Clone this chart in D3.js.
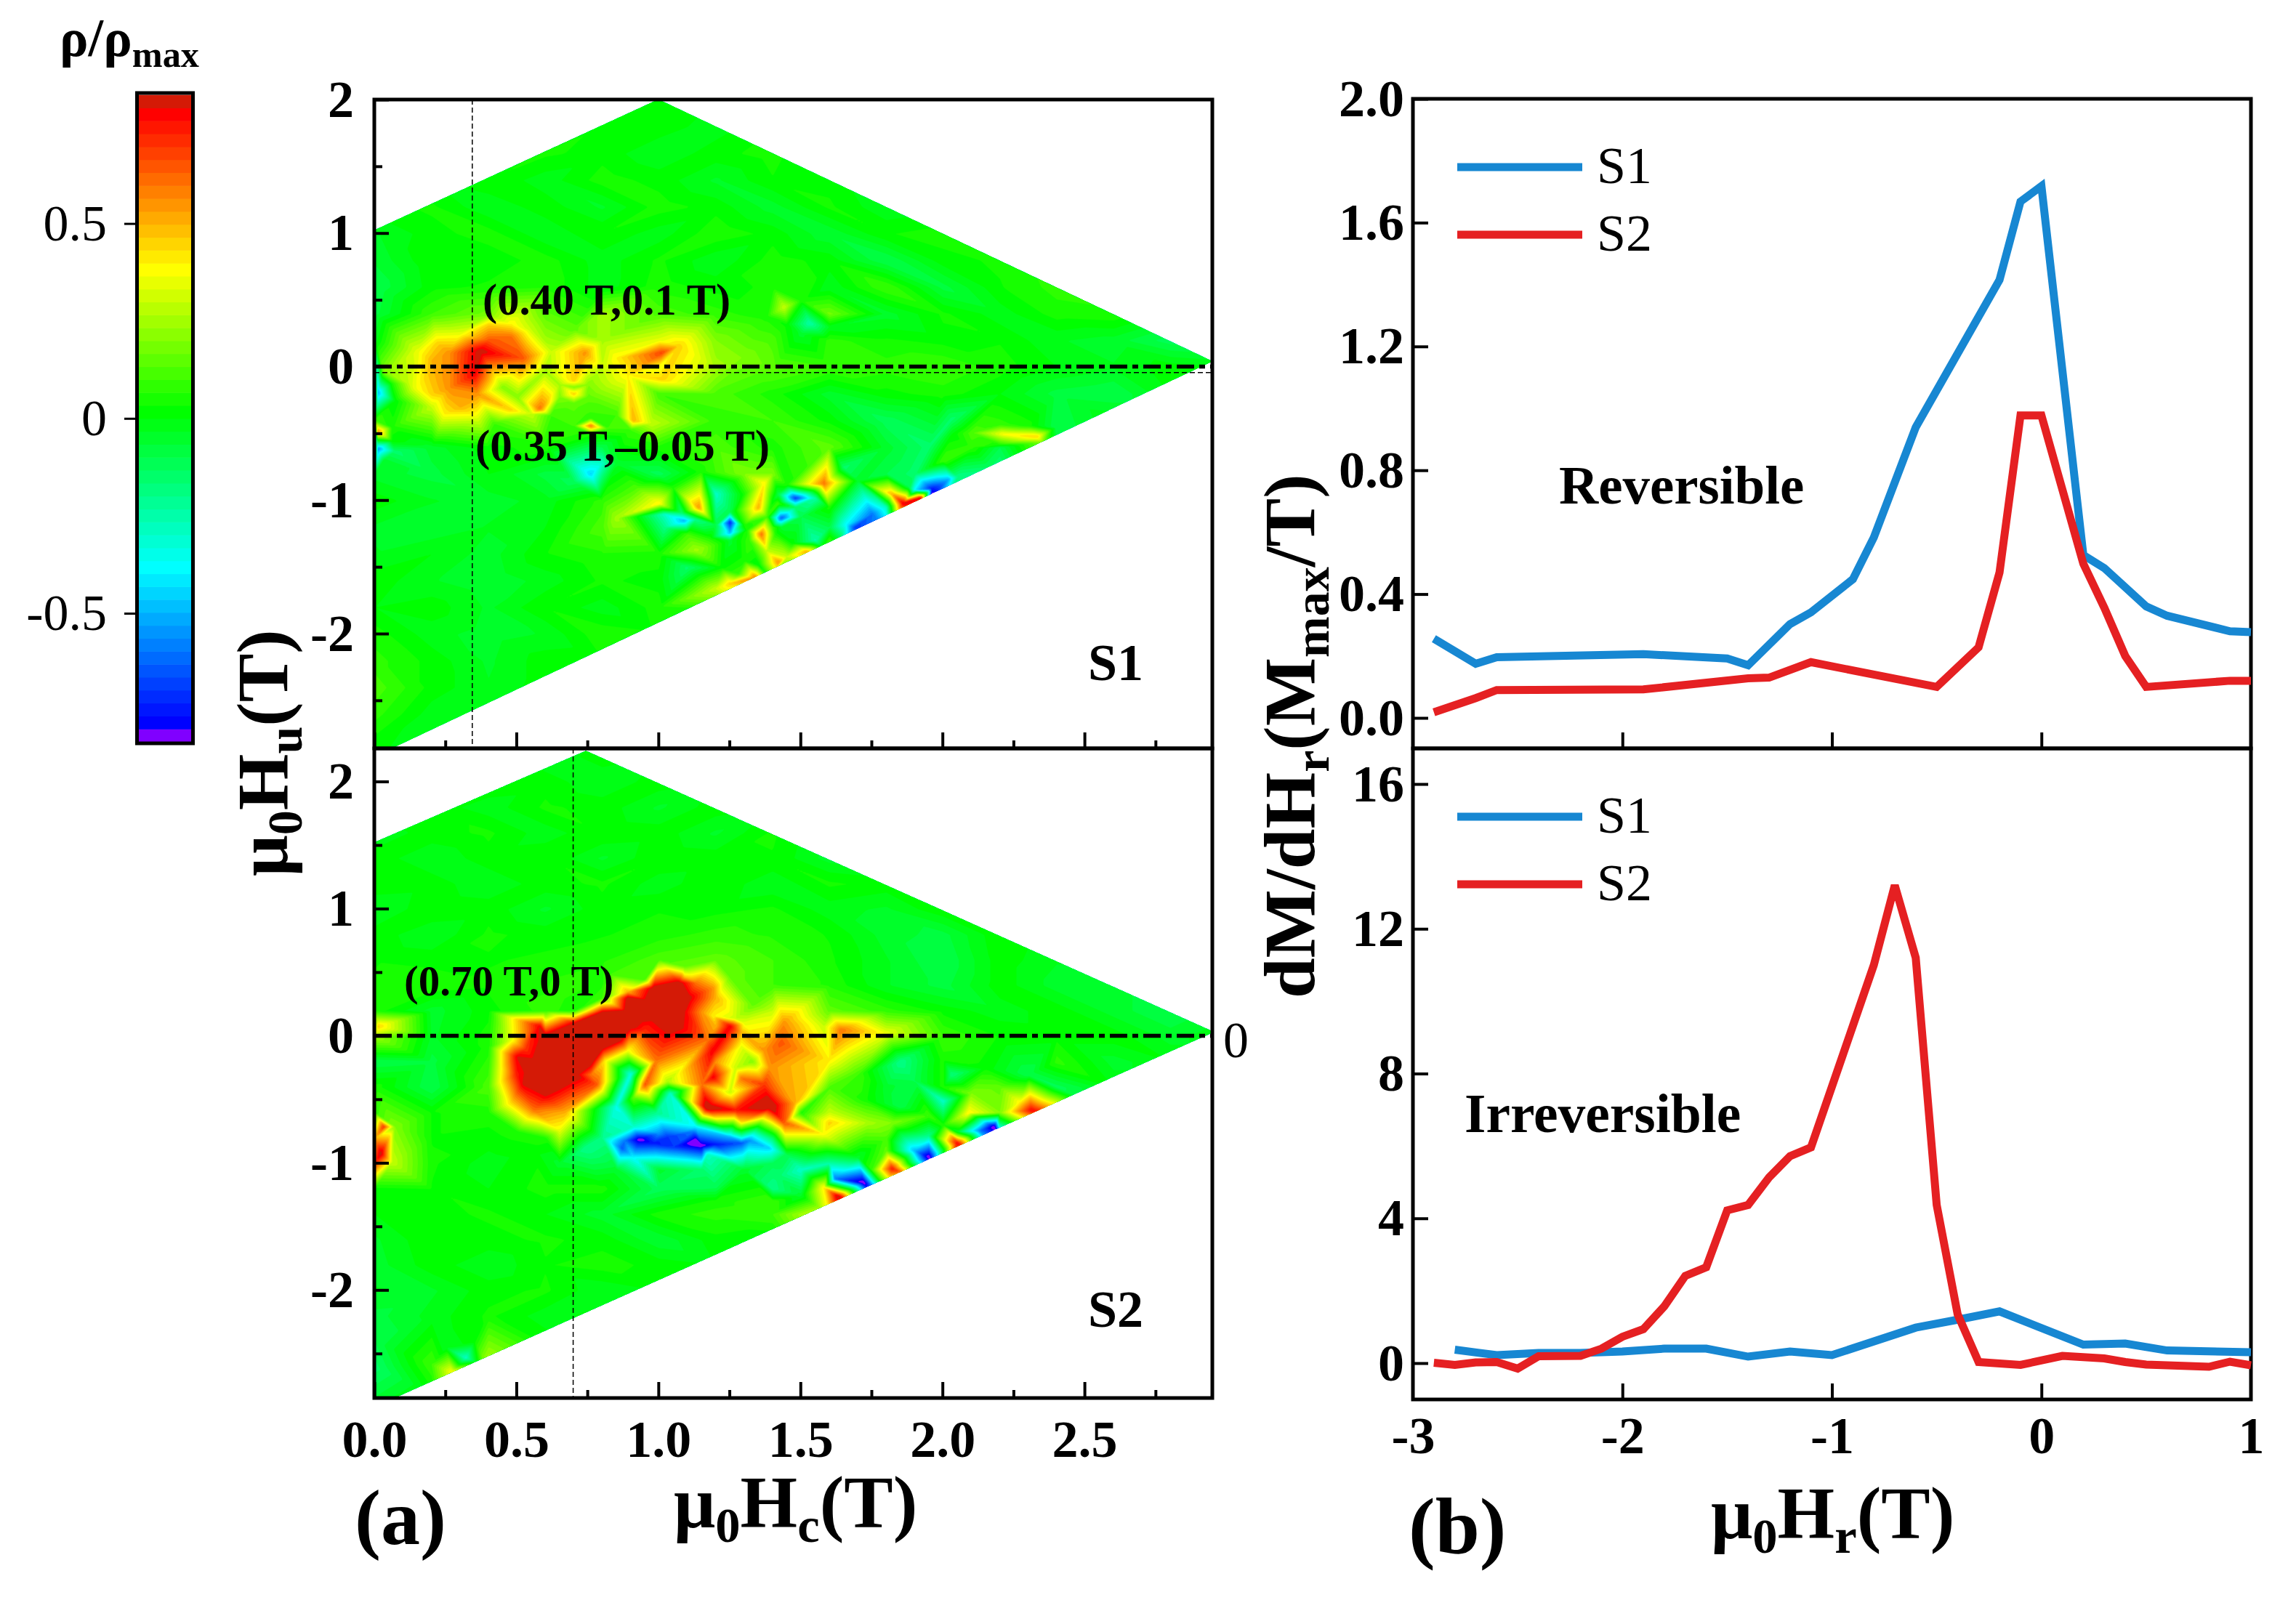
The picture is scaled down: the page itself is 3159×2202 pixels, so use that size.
<!DOCTYPE html>
<html>
<head>
<meta charset="utf-8">
<script src="https://cdn.jsdelivr.net/npm/d3@7"></script>
<style>
body { margin: 0; background: #fff; }
svg { display: block; }
text { font-family: "Liberation Serif", serif; fill: #000; }
</style>
</head>
<body>
<svg id="chart" width="3159" height="2202"></svg>
<script>
// FORC field sampled on a rough lattice, columns are Hc, rows are Hu
const latticeHc = [0, 0.2, 0.4, 0.6, 0.8, 1.0, 1.2, 1.4, 1.6, 1.8, 2.0, 2.2, 2.4, 2.6, 2.8, 3.0];
const latticeHu = [2.4, 2.2, 2.0, 1.8, 1.6, 1.4, 1.2, 1.0, 0.8, 0.6, 0.4, 0.2, 0, -0.2, -0.4, -0.6, -0.8, -1.0, -1.2, -1.4, -1.6, -1.8, -2.0, -2.2, -2.4, -2.6, -2.8, -3.0];

const s1Lattice = [
  [0, 0, 0, 0, 0, 0, 0, 0, 0, 0, 0, 0, 0, 0, 0, 0],
  [0, 0, 0, 0, 0, 0, 0, 0, 0, 0, 0, 0, 0, 0, 0, 0],
  [0, 0, 0, 0, 0, .02, 0, 0, 0, 0, 0, 0, 0, 0, 0, 0],
  [0, 0, 0, 0, .03, .02, -.02, .03, 0, 0, 0, 0, 0, 0, 0, 0],
  [0, 0, 0, .04, .02, -.03, .02, .05, -.03, 0, 0, 0, 0, 0, 0, 0],
  [0, 0, .03, -.02, .05, .02, -.04, .03, .02, 0, 0, 0, 0, 0, 0, 0],
  [.02, .04, -.03, .02, -.04, .05, .02, -.05, .04, -.03, .02, 0, 0, 0, 0, 0],
  [-.04, .02, .05, -.03, .03, -.02, .06, .02, -.06, .03, .05, -.03, 0, 0, 0, 0],
  [-.06, .03, .01, .05, -.02, .04, -.03, .05, .02, -.1, .02, .04, .05, 0, 0, 0],
  [-.1, .02, .04, .06, -.02, .05, .02, .04, -.03, .1, -.08, .03, .08, -.03, 0, 0],
  [-.08, .1, .18, .14, .25, .12, .08, .12, .18, -.05, .04, -.02, .05, .06, -.06, 0],
  [-.02, .42, .65, .3, .25, .35, .2, .12, .08, .04, .02, .03, -.03, -.05, -.12, 0],
  [.1, .4, .72, .3, .3, .35, .25, .15, .1, .08, .1, .05, 0, -.03, .02, 0],
  [-.45, .45, .4, .25, .18, .1, .12, .05, -.05, .02, .05, 0, -.08, -.1, 0, 0],
  [.1, .25, .2, .15, .12, .12, .08, .1, .02, -.12, -.2, .1, .1, 0, 0, 0],
  [-.4, -.05, .02, .05, -.1, .05, .12, .05, .15, -.05, .02, .1, 0, 0, 0, 0],
  [-.05, -.08, 0, -.08, -.45, -.12, .05, .2, .35, -.1, -.1, -.2, 0, 0, 0, 0],
  [.02, -.03, -.05, -.02, .08, .1, .05, .3, -.1, -.3, 0, 0, 0, 0, 0, 0],
  [-.04, -.06, -.03, 0, .12, .02, -.3, .4, -.1, -.5, 0, 0, 0, 0, 0, 0],
  [-.03, 0, -.05, .03, .06, .05, .12, .1, .3, 0, 0, 0, 0, 0, 0, 0],
  [.02, -.03, -.06, -.02, .04, .02, -.1, .08, 0, 0, 0, 0, 0, 0, 0, 0],
  [0, .02, -.04, .03, -.02, .05, .08, 0, 0, 0, 0, 0, 0, 0, 0, 0],
  [.05, -.02, -.05, -.03, .06, .04, 0, 0, 0, 0, 0, 0, 0, 0, 0, 0],
  [.08, .02, -.04, .02, .03, 0, 0, 0, 0, 0, 0, 0, 0, 0, 0, 0],
  [.12, .02, -.03, .02, 0, 0, 0, 0, 0, 0, 0, 0, 0, 0, 0, 0],
  [.08, -.02, .01, 0, 0, 0, 0, 0, 0, 0, 0, 0, 0, 0, 0, 0],
  [.02, -.04, 0, 0, 0, 0, 0, 0, 0, 0, 0, 0, 0, 0, 0, 0],
  [0, 0, 0, 0, 0, 0, 0, 0, 0, 0, 0, 0, 0, 0, 0, 0]
];

// finer spots: Hc, Hu, rho/rho_max
const s1Spots = [
  [.37, .12, .84], [.35, -.05, .8], [.48, .23, .6], [.26, .11, .55], [.52, .07, .65], [.22, .18, .45],
  [.48, .32, .4], [.14, -.16, .35], [.26, -.16, .55], [.3, -.3, .5], [.245, -.35, .4], [.58, -.31, .6],
  [.48, -.32, .45], [.74, .11, .55], [1.01, .11, .68], [.85, .07, .4], [1.07, .16, .45], [1.01, -.09, .45],
  [.89, -.06, .4], [.7, -.1, .45], [.7, -.2, .45], [.6, -.03, .25], [1.29, .07, .2], [.7, .28, .15],
  [1.44, .45, .3], [1.53, .33, -.25], [.01, -.19, -.5], [.03, -.03, .2], [.01, -.48, .55], [.01, -.61, -.55],
  [.76, -.8, -.45], [.76, -.44, .6], [.91, -.4, .5], [2.21, -.5, .38], [2.33, -.52, .45], [2.03, -.39, -.15],
  [1.58, -.87, .6], [1.48, -.98, -.7], [1.43, -1.13, -.65], [1.35, -1.05, .5], [1.36, -1.25, .6],
  [1.25, -1.16, -.75], [1.25, -1.24, -.5], [1.09, -1.15, -.5], [1.14, -1.05, .55], [1, -1.02, .4],
  [.85, -1.13, .25], [1.37, -.87, .4], [1.86, -1.02, .82], [1.96, -.91, -.75], [1.96, -.96, -.85],
  [1.69, -1.2, -.7], [1.52, -1.38, .5], [1.34, -1.58, .6], [1.16, -1.35, .2],
  // blob halo
  [.15, .12, .35], [.2, .05, .5], [.3, .25, .35], [.4, .32, .45], [.55, .28, .3], [.6, .2, .25], [.62, .12, .3],
  [.18, -.08, .45], [.12, -.12, .3], [.36, -.2, .55], [.45, -.15, .2], [.5, -.22, .2], [.2, -.3, .3], [.36, -.37, .35],
  [.55, -.35, .3], [.42, -.42, .1], [.62, -.36, .1],
  // lower edge
  [1.66, -1.18, -.4], [1.75, -1.1, -.6], [1.8, -1.05, -.3], [1.55, -1.3, -.25], [1.45, -1.42, .3], [1.42, -1.46, .55],
  [1.25, -1.62, .45], [1.2, -1.66, .3], [1.1, -1.5, -.15], [1.9, -.92, -.4], [1.88, -.9, -.1], [1.82, -.95, .5],
  [1.92, -.98, .8], [2.02, -.84, -.5], [2.05, -.82, -.2], [2.15, -.72, -.1], [2.35, -.56, .2],
  [1.3, -1.45, .05], [1.22, -1.5, .02], [1.38, -1.38, .3], [1.35, -1.48, 0], [1.28, -1.55, .1], [1.47, -1.32, .02],
  // middle patches
  [1.55, -.98, -.25], [1.6, -1.05, .05], [1.2, -.95, -.3], [1.3, -.95, .05], [1.32, -1.3, .1], [1.4, -1.2, .1],
  [1.18, -1.28, .05], [1.02, -1.2, -.2], [1.02, -1.1, -.3], [1.1, -1.25, .1], [1.13, -1.37, .25], [1.05, -.9, .05],
  [.92, -.9, .12], [.8, -.72, -.3], [.7, -.86, -.12], [.85, -.72, -.05], [1.15, -.78, .05], [1.3, -.8, .2],
  [1.45, -.88, .05], [1.65, -.75, -.15], [1.7, -.85, -.05], [1.9, -.8, -.15], [2, -.7, .1], [1.95, -.6, -.15],
  [2.1, -.6, .08], [2.03, -.5, 0], [2.4, -.45, -.1], [2.2, -.6, -.1], [1.4, -1, 0],
  // shoulders of the small spots
  [.65, -.13, .25], [.75, -.13, .2], [.7, -.15, .2], [.65, -.22, .2], [.75, -.22, .15], [.7, -.27, .15],
  [.7, -.44, .1], [.82, -.46, .1], [.76, -.5, .05], [.76, -.38, .08], [.85, -.36, .1], [.97, -.42, .3], [.9, -.47, .1],
  [1.38, .38, .05], [1.5, .5, .05], [1.6, .3, -.03], [1.5, .25, -.05], [1.45, .32, .02],
  [2.1, -.49, .12], [2.2, -.43, .08], [2.3, -.44, .05], [2.2, -.58, .05],
  [.06, -.12, .05], [.07, -.25, 0], [.06, -.45, .05], [.06, -.55, .02], [.07, -.63, -.15], [.03, -.7, -.05],
  [1.31, -1.22, .05], [1.41, -1.25, .05], [1.42, -.95, -.1], [1.54, -.93, -.05], [1.48, -1.05, -.15], [1.42, -1.02, .1],
  [1.38, -1.12, .1], [1.5, -1.12, -.1], [1.43, -1.2, -.05], [1.2, -1.18, -.1], [1.3, -1.18, .05], [1.25, -1.3, -.05],
  [1.25, -1.08, -.1], [1.13, -1.14, -.2], [1.08, -1.09, -.15]
];

const s2Lattice = [
  [0, 0, 0, 0, 0, 0, 0, 0, 0, 0, 0, 0, 0, 0, 0, 0],
  [0, 0, .02, -.03, .02, 0, 0, 0, 0, 0, 0, 0, 0, 0, 0, 0],
  [0, 0, .03, .02, -.03, .02, 0, 0, 0, 0, 0, 0, 0, 0, 0, 0],
  [0, .02, -.02, .04, .02, -.04, .02, 0, 0, 0, 0, 0, 0, 0, 0, 0],
  [-.03, .02, .04, -.02, .03, .02, -.04, .04, 0, 0, 0, 0, 0, 0, 0, 0],
  [.02, -.03, .02, .03, -.04, .03, .02, .03, -.05, 0, 0, 0, 0, 0, 0, 0],
  [.03, .02, -.03, .02, .04, -.02, .03, -.03, .04, .02, 0, 0, 0, 0, 0, 0],
  [-.04, .03, .02, -.04, .02, .03, .02, .04, -.02, -.04, .03, 0, 0, 0, 0, 0],
  [.02, -.03, .04, .02, .03, .05, .08, .06, .03, -.05, -.08, .03, 0, 0, 0, 0],
  [.03, .02, .03, .04, .06, .12, .15, .1, .04, -.03, -.1, .02, -.03, 0, 0, 0],
  [.04, .06, .04, .04, .06, .8, .4, .1, .06, -.03, -.08, .02, -.05, -.05, 0, 0],
  [.05, -.05, .02, .08, .85, .88, .45, .3, .15, .08, .02, -.02, .02, -.05, -.1, 0],
  [.25, -.04, .05, .8, .88, .7, .65, .5, .45, .35, .1, .03, .02, .02, -.05, 0],
  [-.1, -.08, .1, .88, .55, .55, .55, .5, .2, -.1, .05, -.08, .08, -.05, 0, 0],
  [.05, -.1, .12, .85, .65, .4, .7, .7, .12, -.05, .05, .1, -.12, 0, 0, 0],
  [.08, .03, .05, .45, .1, -.2, .83, .83, .3, .1, -.15, .2, .6, 0, 0, 0],
  [.5, .03, .02, .05, -.2, -.8, -.75, -.15, .25, .12, .2, -.7, 0, 0, 0, 0],
  [.7, .04, -.02, .02, -.2, -.25, -.2, -.12, -.1, .35, 0, 0, 0, 0, 0, 0],
  [.02, .03, 0, .05, .05, -.12, -.1, -.2, -.5, 0, 0, 0, 0, 0, 0, 0],
  [0, .02, .04, 0, -.05, .05, .08, .1, .4, 0, 0, 0, 0, 0, 0, 0],
  [-.04, .03, .02, .04, .02, -.06, .02, 0, 0, 0, 0, 0, 0, 0, 0, 0],
  [-.05, .02, -.03, .03, .05, .02, 0, 0, 0, 0, 0, 0, 0, 0, 0, 0],
  [-.03, -.04, .02, .04, -.03, 0, 0, 0, 0, 0, 0, 0, 0, 0, 0, 0],
  [-.08, -.02, .04, -.02, .02, 0, 0, 0, 0, 0, 0, 0, 0, 0, 0, 0],
  [-.1, -.04, .02, .02, 0, 0, 0, 0, 0, 0, 0, 0, 0, 0, 0, 0],
  [-.15, -.06, .3, 0, 0, 0, 0, 0, 0, 0, 0, 0, 0, 0, 0, 0],
  [-.08, .02, 0, 0, 0, 0, 0, 0, 0, 0, 0, 0, 0, 0, 0, 0],
  [0, 0, 0, 0, 0, 0, 0, 0, 0, 0, 0, 0, 0, 0, 0, 0]
];

const s2Spots = [
  [.97, .27, .9], [.8, .11, .9], [.66, -.03, .9], [.58, -.25, .9], [.64, -.36, .9], [.76, 0, .9], [.89, .19, .9], [.7, -.19, .9],
  [1.07, .42, .85], [.58, .08, .8], [.5, -.16, .8], [.52, -.38, .8], [.6, -.47, .8],
  [.48, -.03, .35], [.89, .35, .5], [1.09, .47, .45], [1.19, .38, .55], [.44, -.25, .35], [.48, -.52, .45],
  [.56, -.58, .6], [.67, -.6, .5], [.65, -.74, .35], [.4, -.08, .05], [.64, .38, .08], [.83, .49, .1], [1.09, .55, .15],
  [1.25, .47, .15], [1.33, .25, .15], [1.09, .19, .8], [1.15, .19, .55], [1.25, .08, .8], [1.19, .16, .4], [1.29, .03, .5],
  [1.44, .11, .55], [1.64, .05, .6], [1.58, .08, .3], [1.8, .03, .35], [1.19, -.11, .8], [1.17, -.03, .6], [1.29, -.08, .35],
  [1.43, -.05, .65], [1.37, -.11, .55], [1.27, -.25, .3], [1.33, -.2, .2], [1.19, -.32, .8], [1.15, -.38, .6], [1.29, -.33, .6],
  [1.39, -.25, .55], [1.25, -.44, .3], [1.37, -.38, .7], [1.39, -.55, .9], [1.17, -.56, .9], [1.27, -.58, .75], [1.44, -.68, .65],
  [1.29, -.68, .4], [1.48, -.52, .5], [1.6, -.68, .45], [1.58, -.77, .38], [1.5, -.6, .05], [.99, -.19, .6], [.89, -.12, .35],
  [.9, -.3, -.35], [.81, -.19, .4], [.78, -.38, .65], [.95, -.38, .65], [1.03, -.36, .25], [.85, -.55, -.35], [1.04, -.45, -.3],
  [.99, -.6, -.2], [.91, -.48, .15], [1.6, -.19, .4],
  [.93, -.81, -.85], [1.13, -.82, -.88], [.87, -.88, -.65], [1.03, -.79, -.7], [1.29, -.84, -.65], [1.39, -.88, -.45],
  [.91, -.71, -.3], [1.13, -.71, -.4], [1.33, -.77, -.35], [.91, -.95, -.4], [1.17, -.93, -.3], [1.45, -.93, -.1], [.74, -.88, -.2],
  [.01, .08, .45], [.03, -.71, .7], [.02, -.92, .85], [.06, -.99, .3], [.07, -.71, .2],
  [2.31, -.58, .78], [2.18, -.71, -.88], [2.13, -.74, -.6], [2.05, -.84, .78], [1.95, -.95, -.88], [1.9, -.9, -.5],
  [1.82, -1.04, .75], [1.72, -1.15, -.88], [1.62, -1.12, -.6], [1.63, -1.26, .85], [1.58, -1.19, .4], [2, -.51, -.3],
  [2.09, -.6, .4], [2.27, -.52, .4], [1.74, -.68, .25], [1.82, -.68, .2], [.27, -2.64, .38], [.32, -2.53, -.3],
  // rim of the big blob
  [.89, .3, .85], [.8, .19, .82], [.98, .38, .85], [.7, .1, .82], [.8, .3, .1], [.7, .2, .05], [.95, .45, .1],
  [1.13, .42, .6], [1.2, .3, .5], [1.1, .3, .85], [1.05, .1, .88], [.95, .05, .72], [.7, -.3, .88], [.76, -.3, .6],
  [.72, -.12, .88], [.5, -.3, .75], [.53, -.1, .7], [.8, -.08, .88], [.86, -.02, .88], [.76, -.2, .88],
  [.7, .05, .88], [.86, .12, .9], [.93, .2, .9], [.9, .08, .85], [1, .2, .88], [.6, 0, .85], [1, .3, .9],
  [1.2, .08, .5], [1.3, .1, .35], [1.27, .14, .3],
  // blue bar
  [.98, -.84, -.75], [1.2, -.85, -.75], [1.05, -.87, -.7], [.88, -.82, -.6], [1.12, -.75, -.6], [1, -.76, -.55],
  [1.25, -.79, -.5], [1.32, -.82, -.55], [1.15, -.86, -.85],
  // patches further out
  [1.85, -.2, -.2], [1.7, -.3, .1], [1.9, -.35, -.1], [2, -.18, .05], [2.03, -.3, -.18], [2.15, -.25, .02], [2.2, -.4, .15],
  [2.3, -.3, -.1], [1.95, -.62, .1], [2, -.7, .05], [1.72, -.5, .05], [1.85, -.55, -.1], [2.1, -.45, .2], [2.05, -.75, -.05],
  [1.95, -.78, -.2], [1.8, -.9, .15], [1.7, -.95, -.05], [1.75, -1.05, .1], [1.6, -1, -.25], [1.5, -1.05, -.3], [1.42, -1.1, -.15],
  [1.3, -1.05, -.05], [1.15, -1.05, -.15], [1, -1.05, -.05], [.85, -1.05, -.05], [1.2, -1.3, .05], [1.4, -1.3, .1], [1.5, -1.25, -.05],
  [.5, -.75, .05], [.55, -.9, .02], [.65, -1, -.05], [.25, -2.45, -.03], [.35, -2.4, .02], [.2, -2.58, .1]
];

// outline of the measured region in each map
const s1Outline = [[0, 1.02], [1, 2], [2.95, .04], [.06, -2.86], [0, -2.86]];
const s2Outline = [[0, 1.52], [.745, 2.24], [2.955, .03], [.07, -2.85], [0, -2.85]];

// dM/dHr curves
const revS1X = [-2.9, -2.7, -2.6, -1.9, -1.5, -1.4, -1.2, -1.1, -.9, -.8, -.6, -.2, -.1, 0, .2, .3, .5, .6, .9, 1];
const revS1Y = [.256, .175, .196, .206, .192, .17, .303, .341, .448, .583, .939, 1.415, 1.668, 1.718, .526, .484, .36, .33, .28, .277];
const revS2X = [-2.9, -2.7, -2.6, -1.9, -1.4, -1.3, -1.1, -.5, -.3, -.2, -.1, 0, .2, .3, .4, .5, .9, 1];
const revS2Y = [.018, .064, .09, .092, .128, .13, .18, .1, .228, .47, .977, .977, .498, .356, .2, .1, .12, .12];
const irrS1X = [-2.8, -2.6, -2.4, -2.2, -2, -1.8, -1.6, -1.4, -1.2, -1, -.6, -.4, -.2, .2, .4, .6, 1];
const irrS1Y = [.37, .22, .28, .28, .32, .4, .4, .18, .32, .22, .98, 1.2, 1.43, .51, .54, .35, .3];
const irrS2X = [-2.9, -2.8, -2.7, -2.6, -2.5, -2.4, -2.2, -2.1, -2, -1.9, -1.8, -1.7, -1.6, -1.5, -1.4, -1.3, -1.2, -1.1, -.8, -.7, -.6, -.5, -.4, -.3, -.1, .1, .3, .4, .5, .8, .9, 1];
const irrS2Y = [.01, -.05, .02, .03, -.15, .19, .2, .4, .73, .94, 1.57, 2.41, 2.65, 4.22, 4.37, 5.13, 5.72, 5.96, 11, 13.2, 11.2, 4.37, 1.35, .03, -.05, .2, .13, .03, -.04, -.1, .04, -.06];

const mapXTicks = [0, .5, 1, 1.5, 2, 2.5];
const mapXMinor = [.25, .75, 1.25, 1.75, 2.25, 2.75];
const s1YTicks = [-2, -1, 0, 1, 2];
const s2YTicks = [-2, -1, 0, 1, 2];
const mapYMinor = [-2.5, -1.5, -.5, .5, 1.5];
const curveXTicks = [-3, -2, -1, 0, 1];
const revYTicks = [0, .4, .8, 1.2, 1.6, 2];
const irrYTicks = [0, 4, 8, 12, 16];
const barTicks = [-.5, 0, .5];

const bandCount = 50;
const barLimit = .83;
const stopValues = [-.781, -.382, .0166, .382, .781];
const stopColors = ["#0000ff", "#00ffff", "#00ff00", "#ffff00", "#ff0000"];
const colorS1 = "#1787d2";
const colorS2 = "#e52022";

const svg = d3.select("#chart");
const rainbow = d3.scaleLinear().domain(stopValues).range(stopColors).clamp(true);
const bandEdges = d3.range(bandCount).map(i => -barLimit + i * 2 * barLimit / bandCount);

function bandColor(i) {
  if (i === 0) return "#8000ff";
  if (i === bandCount - 1) return "#d41a06";
  return rainbow(bandEdges[i] + barLimit / bandCount);
}

// text with subscripts, parts are [string, isSub]
function richText(g, x, y, parts, size, opts) {
  opts = opts || {};
  let t = g.append("text")
    .attr("x", x).attr("y", y)
    .attr("font-size", size)
    .attr("font-weight", opts.weight || "bold")
    .attr("text-anchor", opts.anchor || "start");
  if (opts.rotate) t.attr("transform", `rotate(-90 ${x} ${y})`);
  let wasSub = false;
  parts.forEach(p => {
    let s = t.append("tspan").text(p[0]);
    if (p[1]) {
      s.attr("font-size", size * .68).attr("dy", size * .2);
    } else {
      s.attr("dy", wasSub ? -size * .2 : 0);
    }
    wasSub = p[1];
  });
  return t;
}

// colour bar
const barY = d3.scaleLinear().domain([-barLimit, barLimit]).range([1021, 130.6]);
const barG = svg.append("g");
barG.selectAll("rect.band").data(bandEdges).enter().append("rect")
  .attr("class", "band")
  .attr("x", 189).attr("width", 76)
  .attr("y", d => barY(d + 2 * barLimit / bandCount))
  .attr("height", barY(0) - barY(2 * barLimit / bandCount) + .6)
  .attr("fill", (d, i) => bandColor(i));
barG.append("rect").attr("x", 188.5).attr("y", 128).attr("width", 77).attr("height", 895)
  .attr("fill", "none").attr("stroke", "#000").attr("stroke-width", 5);
const barAxis = barG.append("g").attr("transform", "translate(186,0)")
  .call(d3.axisLeft(barY).tickValues(barTicks).tickSize(15).tickPadding(24)
    .tickFormat(d => d === 0 ? "0" : (d < 0 ? "-" : "") + Math.abs(d)));
barAxis.select(".domain").remove();
barAxis.selectAll("line").attr("stroke-width", 3);
barAxis.selectAll("text").attr("font-size", 70).attr("font-family", "Liberation Serif");
richText(svg, 82, 77, [["ρ/ρ", false], ["max", true]], 74);

// field from scattered samples, triangulated and filled by level
function fieldSamples(lattice, spots) {
  let pts = [];
  latticeHu.forEach((hu, r) => {
    latticeHc.forEach((hc, c) => {
      let close = spots.some(s => Math.abs(s[0] - hc) < .055 && Math.abs(s[1] - hu) < .055);
      if (!close) pts.push([hc, hu, lattice[r][c]]);
    });
  });
  return pts.concat(spots);
}

function drawField(g, x, y, width, height, lattice, spots, outline, id) {
  const step = 2;
  const nx = Math.ceil(width / step) + 1;
  const ny = Math.ceil(height / step) + 1;
  const grid = new Float64Array(nx * ny);
  const pts = fieldSamples(lattice, spots).map(d => [x(d[0]) - x.range()[0], y(d[1]) - y.range()[1], d[2]]);
  const tri = d3.Delaunay.from(pts).triangles;
  for (let t = 0; t < tri.length; t += 3) {
    let a = pts[tri[t]], b = pts[tri[t + 1]], c = pts[tri[t + 2]];
    let den = (b[1] - c[1]) * (a[0] - c[0]) + (c[0] - b[0]) * (a[1] - c[1]);
    if (!den) continue;
    let i0 = Math.max(0, Math.floor(d3.min([a[0], b[0], c[0]]) / step));
    let i1 = Math.min(nx - 1, Math.ceil(d3.max([a[0], b[0], c[0]]) / step));
    let j0 = Math.max(0, Math.floor(d3.min([a[1], b[1], c[1]]) / step));
    let j1 = Math.min(ny - 1, Math.ceil(d3.max([a[1], b[1], c[1]]) / step));
    for (let j = j0; j <= j1; j++) {
      for (let i = i0; i <= i1; i++) {
        let px = i * step, py = j * step;
        let w1 = ((b[1] - c[1]) * (px - c[0]) + (c[0] - b[0]) * (py - c[1])) / den;
        let w2 = ((c[1] - a[1]) * (px - c[0]) + (a[0] - c[0]) * (py - c[1])) / den;
        let w3 = 1 - w1 - w2;
        if (w1 >= -1e-9 && w2 >= -1e-9 && w3 >= -1e-9) {
          grid[j * nx + i] = w1 * a[2] + w2 * b[2] + w3 * c[2];
        }
      }
    }
  }
  const levels = bandEdges.slice();
  levels[0] = -10;
  const polys = d3.contours().size([nx, ny]).smooth(true).thresholds(levels)(grid);
  const path = d3.geoPath(d3.geoIdentity().scale(step));
  svg.append("clipPath").attr("id", id).append("path")
    .attr("d", d3.line().x(d => x(d[0]) - x.range()[0]).y(d => y(d[1]) - y.range()[1])(outline) + "Z");
  g.append("g").attr("clip-path", `url(#${id})`)
    .selectAll("path").data(polys).enter().append("path")
    .attr("d", path)
    .attr("fill", (d, i) => bandColor(i))
    .attr("stroke", (d, i) => bandColor(i))
    .attr("stroke-width", .5);
}

const mapLeft = 515, mapRight = 1668;
const s1Top = 137, s1Bot = 1030, s2Top = 1030, s2Bot = 1924;
const mapX = d3.scaleLinear().domain([0, 2.95]).range([mapLeft, mapRight]);
const s1Y = d3.scaleLinear().domain([-2.86, 2]).range([s1Bot, s1Top]);
const s2Y = d3.scaleLinear().domain([-2.85, 2.26]).range([s2Bot, s2Top]);

function drawMap(yScale, top, bot, lattice, spots, outline, id, yTicks, showX) {
  const g = svg.append("g").attr("transform", `translate(${mapLeft},${top})`);
  drawField(g, mapX, yScale, mapRight - mapLeft, bot - top, lattice, spots, outline, id);

  const xMinor = svg.append("g").attr("transform", `translate(0,${bot})`)
    .call(d3.axisBottom(mapX).tickValues(mapXMinor).tickSize(-11).tickFormat(""));
  const xMajor = svg.append("g").attr("transform", `translate(0,${bot})`)
    .call(d3.axisBottom(mapX).tickValues(mapXTicks).tickSize(-22).tickPadding(30)
      .tickFormat(d => showX ? d3.format(".1f")(d) : ""));
  const yMinor = svg.append("g").attr("transform", `translate(${mapLeft},0)`)
    .call(d3.axisLeft(yScale).tickValues(mapYMinor).tickSize(-11).tickFormat(""));
  const yMajor = svg.append("g").attr("transform", `translate(${mapLeft},0)`)
    .call(d3.axisLeft(yScale).tickValues(yTicks).tickSize(-20).tickPadding(28).tickFormat(d => d));
  [xMinor, xMajor, yMinor, yMajor].forEach(a => {
    a.select(".domain").remove();
    a.selectAll("line").attr("stroke-width", 4);
    a.selectAll("text").attr("font-size", 72).attr("font-weight", "bold").attr("font-family", "Liberation Serif");
  });
}

drawMap(s1Y, s1Top, s1Bot, s1Lattice, s1Spots, s1Outline, "clipS1", s1YTicks, false);
drawMap(s2Y, s2Top, s2Bot, s2Lattice, s2Spots, s2Outline, "clipS2", s2YTicks, true);

// guide lines on the maps
function guide(x1, y1, x2, y2, dash, w) {
  svg.append("line").attr("x1", x1).attr("y1", y1).attr("x2", x2).attr("y2", y2)
    .attr("stroke", "#000").attr("stroke-width", w).attr("stroke-dasharray", dash);
}
guide(mapX(.35) - 2, s1Top, mapX(.35) - 2, s1Bot, "7 4", 1.5);
guide(mapLeft, s1Y(-.045), mapRight, s1Y(-.045), "7 4", 1.5);
guide(mapLeft, s1Y(0), mapRight, s1Y(0), "24 7 8 7", 5.5);
guide(mapX(.7), s2Top, mapX(.7), s2Bot, "7 4", 1.5);
guide(mapLeft, s2Y(0), mapRight, s2Y(0), "24 7 8 7", 5.5);

// frames
[[mapLeft, s1Top, mapRight, s1Bot], [mapLeft, s2Top, mapRight, s2Bot], [1944, 136, 3097, 1030], [1944, 1030, 3097, 1926]].forEach(r => {
  svg.append("rect").attr("x", r[0]).attr("y", r[1]).attr("width", r[2] - r[0]).attr("height", r[3] - r[1])
    .attr("fill", "none").attr("stroke", "#000").attr("stroke-width", 5);
});

// curve panels
const curveX = d3.scaleLinear().domain([-3, 1]).range([1944, 3097]);
const revY = d3.scaleLinear().domain([0, 2]).range([988, 136]);
const irrY = d3.scaleLinear().domain([0, 16]).range([1876, 1079]);
const curveLine = yScale => d3.line().x(d => curveX(d[0])).y(d => yScale(d[1]));

function drawCurves(yScale, ticks, bot, s1x, s1y, s2x, s2y, fmt, showX, legendY) {
  const xAxis = svg.append("g").attr("transform", `translate(0,${bot})`)
    .call(d3.axisBottom(curveX).tickValues(curveXTicks.slice(1, 4)).tickSize(-22).tickFormat(""));
  const yAxis = svg.append("g").attr("transform", "translate(1944,0)")
    .call(d3.axisLeft(yScale).tickValues(ticks).tickSize(-21).tickPadding(12).tickFormat(fmt));
  [xAxis, yAxis].forEach(a => {
    a.select(".domain").remove();
    a.selectAll("line").attr("stroke-width", 4);
    a.selectAll("text").attr("font-size", 72).attr("font-weight", "bold").attr("font-family", "Liberation Serif");
  });
  if (showX) {
    const labels = svg.append("g").attr("transform", `translate(0,${bot})`)
      .call(d3.axisBottom(curveX).tickValues(curveXTicks).tickSize(0).tickPadding(23).tickFormat(d3.format("d")));
    labels.select(".domain").remove();
    labels.selectAll("text").text(d => d < 0 ? "-" + Math.abs(d) : d)
      .attr("font-size", 72).attr("font-weight", "bold").attr("font-family", "Liberation Serif");
  }
  [[s1x, s1y, colorS1], [s2x, s2y, colorS2]].forEach(s => {
    svg.append("path").datum(d3.zip(s[0], s[1]))
      .attr("fill", "none").attr("stroke", s[2]).attr("stroke-width", 11)
      .attr("stroke-linejoin", "miter").attr("stroke-miterlimit", 3)
      .attr("d", curveLine(yScale));
  });
  [["S1", colorS1], ["S2", colorS2]].forEach((d, i) => {
    svg.append("line").attr("x1", 2005).attr("x2", 2177)
      .attr("y1", legendY[i]).attr("y2", legendY[i])
      .attr("stroke", d[1]).attr("stroke-width", 11);
    svg.append("text").attr("x", 2197).attr("y", legendY[i] + 22)
      .attr("font-size", 72).text(d[0]);
  });
}
drawCurves(revY, revYTicks, 1030, revS1X, revS1Y, revS2X, revS2Y, d3.format(".1f"), false, [230, 323]);
drawCurves(irrY, irrYTicks, 1926, irrS1X, irrS1Y, irrS2X, irrS2Y, d3.format("d"), true, [1124, 1217]);

// annotations
const note = (x, y, s, size, weight) => svg.append("text").attr("x", x).attr("y", y)
  .attr("font-size", size).attr("font-weight", weight || "bold").text(s);
note(664, 433, "(0.40 T,0.1 T)", 60.5);
note(654, 634, "(0.35 T,–0.05 T)", 61);
note(556, 1370, "(0.70 T,0 T)", 59);
note(1497, 936, "S1", 72);
note(1497, 1826, "S2", 72);
note(1683, 1455, "0", 70, "normal");
note(2145, 693, "Reversible", 75);
note(2015, 1558, "Irreversible", 75.5);
note(488, 2125, "(a)", 108);
note(1938, 2138, "(b)", 110);

// axis titles
richText(svg, 927, 2102, [["μ", false], ["0", true], ["H", false], ["c", true], ["(T)", false]], 101);
richText(svg, 2354, 2117, [["μ", false], ["0", true], ["H", false], ["r", true], ["(T)", false]], 101);
richText(svg, 395, 1206, [["μ", false], ["0", true], ["H", false], ["u", true], ["(T)", false]], 100, { rotate: true });
richText(svg, 1808, 1374, [["dM/dH", false], ["r", true], ["(M", false], ["max", true], ["/T)", false]], 100, { rotate: true });
</script>
</body>
</html>
